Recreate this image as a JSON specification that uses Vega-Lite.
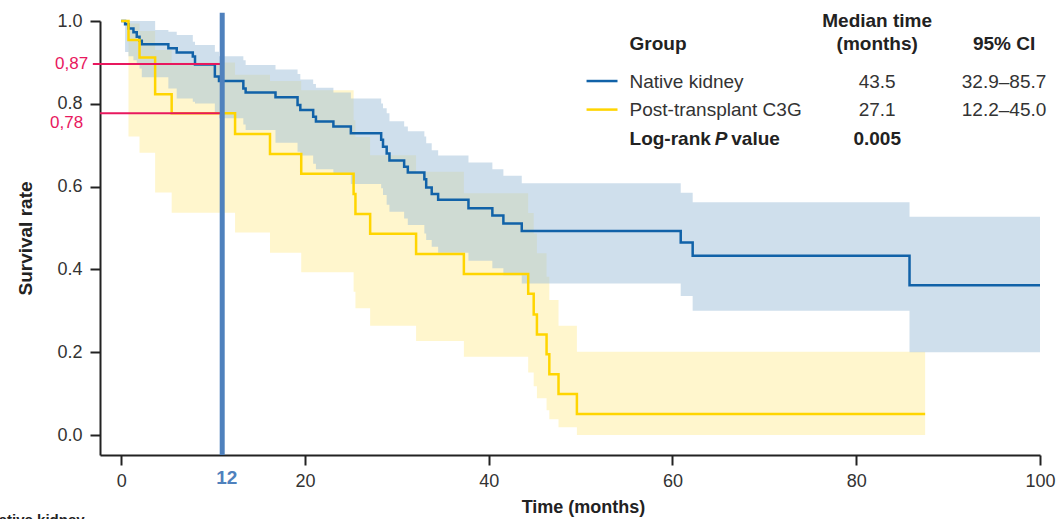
{
  "$schema": "https://vega.github.io/schema/vega-lite/v6.json",
  "width": 940,
  "height": 434,
  "autosize": {"type": "none"},
  "padding": {"left": 100, "top": 21, "right": 18, "bottom": 64},
  "background": "white",
  "config": {
    "view": {"stroke": null},
    "font": "Liberation Sans",
    "axis": {"grid": false, "tickSize": 10, "tickWidth": 2, "tickColor": "#222", "domainColor": "#222", "domainWidth": 2, "labelColor": "#333", "titleFontWeight": "bold", "titleColor": "#222", "labelFlush": false},
    "axisX": {"labelFontSize": 18, "labelPadding": 7, "titleFontSize": 18, "titlePadding": 8, "titleX": 483},
    "axisY": {"labelFontSize": 18, "labelPadding": 8, "titleFontSize": 19, "titlePadding": 21}
  },
  "datasets": {
    "km": [
      {"group": "Native kidney", "t": 0, "s": 1.0, "lo": 1.0, "hi": 1.0},
      {"group": "Native kidney", "t": 0.43, "s": 0.992, "lo": 0.925, "hi": 1.0},
      {"group": "Native kidney", "t": 0.8, "s": 0.982, "lo": 0.915, "hi": 1.0},
      {"group": "Native kidney", "t": 1.34, "s": 0.973, "lo": 0.905, "hi": 1.0},
      {"group": "Native kidney", "t": 1.7, "s": 0.962, "lo": 0.895, "hi": 1.0},
      {"group": "Native kidney", "t": 2.0, "s": 0.952, "lo": 0.885, "hi": 1.0},
      {"group": "Native kidney", "t": 2.25, "s": 0.944, "lo": 0.864, "hi": 1.0},
      {"group": "Native kidney", "t": 3.7, "s": 0.944, "lo": 0.864, "hi": 0.978},
      {"group": "Native kidney", "t": 5.14, "s": 0.934, "lo": 0.837, "hi": 0.974},
      {"group": "Native kidney", "t": 6.05, "s": 0.924, "lo": 0.813, "hi": 0.966},
      {"group": "Native kidney", "t": 7.8, "s": 0.914, "lo": 0.805, "hi": 0.950},
      {"group": "Native kidney", "t": 8.04, "s": 0.895, "lo": 0.801, "hi": 0.942},
      {"group": "Native kidney", "t": 10.2, "s": 0.866, "lo": 0.777, "hi": 0.926},
      {"group": "Native kidney", "t": 10.65, "s": 0.855, "lo": 0.765, "hi": 0.915},
      {"group": "Native kidney", "t": 13.3, "s": 0.837, "lo": 0.750, "hi": 0.905},
      {"group": "Native kidney", "t": 13.55, "s": 0.827, "lo": 0.737, "hi": 0.894},
      {"group": "Native kidney", "t": 16.8, "s": 0.816, "lo": 0.706, "hi": 0.883},
      {"group": "Native kidney", "t": 19.2, "s": 0.797, "lo": 0.684, "hi": 0.872},
      {"group": "Native kidney", "t": 19.5, "s": 0.785, "lo": 0.675, "hi": 0.859},
      {"group": "Native kidney", "t": 20.9, "s": 0.769, "lo": 0.655, "hi": 0.848},
      {"group": "Native kidney", "t": 21.2, "s": 0.757, "lo": 0.642, "hi": 0.839},
      {"group": "Native kidney", "t": 23.1, "s": 0.745, "lo": 0.628, "hi": 0.827},
      {"group": "Native kidney", "t": 25.0, "s": 0.729, "lo": 0.606, "hi": 0.813},
      {"group": "Native kidney", "t": 28.3, "s": 0.713, "lo": 0.596, "hi": 0.801},
      {"group": "Native kidney", "t": 28.5, "s": 0.696, "lo": 0.580, "hi": 0.789},
      {"group": "Native kidney", "t": 28.9, "s": 0.680, "lo": 0.556, "hi": 0.777},
      {"group": "Native kidney", "t": 29.2, "s": 0.663, "lo": 0.539, "hi": 0.758},
      {"group": "Native kidney", "t": 30.8, "s": 0.648, "lo": 0.523, "hi": 0.745},
      {"group": "Native kidney", "t": 31.2, "s": 0.634, "lo": 0.507, "hi": 0.734},
      {"group": "Native kidney", "t": 33.0, "s": 0.618, "lo": 0.487, "hi": 0.721},
      {"group": "Native kidney", "t": 33.2, "s": 0.598, "lo": 0.471, "hi": 0.705},
      {"group": "Native kidney", "t": 33.8, "s": 0.582, "lo": 0.455, "hi": 0.688},
      {"group": "Native kidney", "t": 34.5, "s": 0.568, "lo": 0.440, "hi": 0.675},
      {"group": "Native kidney", "t": 37.8, "s": 0.548, "lo": 0.421, "hi": 0.658},
      {"group": "Native kidney", "t": 40.4, "s": 0.530, "lo": 0.403, "hi": 0.642},
      {"group": "Native kidney", "t": 41.6, "s": 0.511, "lo": 0.386, "hi": 0.626},
      {"group": "Native kidney", "t": 43.6, "s": 0.493, "lo": 0.366, "hi": 0.608},
      {"group": "Native kidney", "t": 60.9, "s": 0.465, "lo": 0.336, "hi": 0.585},
      {"group": "Native kidney", "t": 62.2, "s": 0.433, "lo": 0.300, "hi": 0.562},
      {"group": "Native kidney", "t": 85.8, "s": 0.362, "lo": 0.200, "hi": 0.527},
      {"group": "Native kidney", "t": 100, "s": 0.362, "lo": 0.200, "hi": 0.527},
      {"group": "Post-transplant C3G", "t": 0, "s": 1.0, "lo": 1.0, "hi": 1.0},
      {"group": "Post-transplant C3G", "t": 0.8, "s": 0.954, "lo": 0.721, "hi": 0.994},
      {"group": "Post-transplant C3G", "t": 2.0, "s": 0.912, "lo": 0.682, "hi": 0.976},
      {"group": "Post-transplant C3G", "t": 3.7, "s": 0.823, "lo": 0.586, "hi": 0.930},
      {"group": "Post-transplant C3G", "t": 5.5, "s": 0.777, "lo": 0.537, "hi": 0.900},
      {"group": "Post-transplant C3G", "t": 12.4, "s": 0.727, "lo": 0.489, "hi": 0.870},
      {"group": "Post-transplant C3G", "t": 16.2, "s": 0.679, "lo": 0.440, "hi": 0.855},
      {"group": "Post-transplant C3G", "t": 19.6, "s": 0.631, "lo": 0.393, "hi": 0.833},
      {"group": "Post-transplant C3G", "t": 25.3, "s": 0.582, "lo": 0.346, "hi": 0.760},
      {"group": "Post-transplant C3G", "t": 25.5, "s": 0.534, "lo": 0.306, "hi": 0.720},
      {"group": "Post-transplant C3G", "t": 27.1, "s": 0.486, "lo": 0.264, "hi": 0.676},
      {"group": "Post-transplant C3G", "t": 32.1, "s": 0.437, "lo": 0.227, "hi": 0.636},
      {"group": "Post-transplant C3G", "t": 37.3, "s": 0.389, "lo": 0.189, "hi": 0.584},
      {"group": "Post-transplant C3G", "t": 44.3, "s": 0.341, "lo": 0.151, "hi": 0.536},
      {"group": "Post-transplant C3G", "t": 44.9, "s": 0.291, "lo": 0.118, "hi": 0.487},
      {"group": "Post-transplant C3G", "t": 45.25, "s": 0.243, "lo": 0.089, "hi": 0.439},
      {"group": "Post-transplant C3G", "t": 46.3, "s": 0.195, "lo": 0.060, "hi": 0.382},
      {"group": "Post-transplant C3G", "t": 46.6, "s": 0.147, "lo": 0.038, "hi": 0.326},
      {"group": "Post-transplant C3G", "t": 47.6, "s": 0.099, "lo": 0.019, "hi": 0.264},
      {"group": "Post-transplant C3G", "t": 49.6, "s": 0.051, "lo": 0.0, "hi": 0.201},
      {"group": "Post-transplant C3G", "t": 87.5, "s": 0.051, "lo": 0.0, "hi": 0.201}
    ]
  },
  "layer": [
    {
      "data": {"name": "km"},
      "transform": [{"filter": "datum.group === 'Post-transplant C3G'"}],
      "mark": {"type": "area", "interpolate": "step-after", "color": "#fff6cd", "opacity": 1},
      "encoding": {
        "x": {"field": "t", "type": "quantitative", "title": "Time (months)", "scale": {"domain": [-2.3, 100], "nice": false, "zero": false},
          "axis": {"values": [0, 20, 40, 60, 80, 100]}},
        "y": {"field": "lo", "type": "quantitative", "title": "Survival rate", "scale": {"domain": [-0.0483, 1.0], "nice": false, "zero": false},
          "axis": {"values": [0, 0.2, 0.4, 0.6, 0.8, 1.0], "format": ".1f"}},
        "y2": {"field": "hi"}
      }
    },
    {
      "data": {"name": "km"},
      "transform": [{"filter": "datum.group === 'Native kidney'"}],
      "mark": {"type": "area", "interpolate": "step-after", "color": "#9fbfd9", "opacity": 0.5},
      "encoding": {
        "x": {"field": "t", "type": "quantitative", "title": "Time (months)"},
        "y": {"field": "lo", "type": "quantitative", "title": "Survival rate"},
        "y2": {"field": "hi"}
      }
    },
    {
      "data": {"name": "km"},
      "mark": {"type": "line", "interpolate": "step-after", "strokeWidth": 2.5},
      "encoding": {
        "x": {"field": "t", "type": "quantitative", "title": "Time (months)"},
        "y": {"field": "s", "type": "quantitative", "title": "Survival rate"},
        "color": {"field": "group", "type": "nominal", "scale": {"domain": ["Post-transplant C3G", "Native kidney"], "range": ["#ffd500", "#1162a8"]}, "legend": null},
        "order": {"field": "t"}
      }
    },
    {
      "data": {"values": [
        {"t0": 50.65, "t1": 54.02, "v": 0.855, "group": "Native kidney"},
        {"t0": 50.65, "t1": 54.02, "v": 0.786, "group": "Post-transplant C3G"}
      ]},
      "mark": {"type": "rule", "strokeWidth": 2.5},
      "encoding": {
        "x": {"field": "t0", "type": "quantitative", "title": "Time (months)"},
        "x2": {"field": "t1"},
        "y": {"field": "v", "type": "quantitative", "title": "Survival rate"},
        "color": {"field": "group", "type": "nominal", "legend": null}
      }
    },
    {
      "data": {"values": [
        {"t0": -3.08, "t1": 10.76, "v": 0.896},
        {"t0": -2.3, "t1": 10.76, "v": 0.777}
      ]},
      "mark": {"type": "rule", "color": "#e8185e", "strokeWidth": 2},
      "encoding": {
        "x": {"field": "t0", "type": "quantitative", "title": "Time (months)"},
        "x2": {"field": "t1"},
        "y": {"field": "v", "type": "quantitative", "title": "Survival rate"}
      }
    },
    {
      "data": {"values": [{"t": 11.0, "v0": 1.02, "v1": -0.0483}]},
      "mark": {"type": "rule", "color": "#4f81bd", "strokeWidth": 5},
      "encoding": {
        "x": {"field": "t", "type": "quantitative", "title": "Time (months)"},
        "y": {"field": "v0", "type": "quantitative", "title": "Survival rate"},
        "y2": {"field": "v1"}
      }
    },
    {
      "data": {"values": [
        {"label": "0,87", "t": -3.59, "v": 0.896},
        {"label": "0,78", "t": -4.13, "v": 0.754}
      ]},
      "mark": {"type": "text", "align": "right", "baseline": "middle", "fontSize": 17, "color": "#e8185e"},
      "encoding": {
        "x": {"field": "t", "type": "quantitative", "title": "Time (months)"},
        "y": {"field": "v", "type": "quantitative", "title": "Survival rate"},
        "text": {"field": "label"}
      }
    },
    {
      "data": {"values": [{"label": "12", "t": 11.5, "v": -0.104}]},
      "mark": {"type": "text", "align": "center", "baseline": "middle", "fontSize": 19, "fontWeight": "bold", "color": "#4f81bd"},
      "encoding": {
        "x": {"field": "t", "type": "quantitative", "title": "Time (months)"},
        "y": {"field": "v", "type": "quantitative", "title": "Survival rate"},
        "text": {"field": "label"}
      }
    },
    {
      "data": {"values": [
        {"label": "Median time", "t": 82.28, "v": 1.0},
        {"label": "(months)", "t": 82.28, "v": 0.9444},
        {"label": "95% CI", "t": 96.09, "v": 0.9444},
        {"label": "0.005", "t": 82.28, "v": 0.715}
      ]},
      "mark": {"type": "text", "align": "center", "baseline": "middle", "fontSize": 19, "fontWeight": "bold", "color": "#222"},
      "encoding": {
        "x": {"field": "t", "type": "quantitative", "title": "Time (months)"},
        "y": {"field": "v", "type": "quantitative", "title": "Survival rate"},
        "text": {"field": "label"}
      }
    },
    {
      "data": {"values": [
        {"label": "Group", "t": 55.33, "v": 0.9444},
        {"label": "Log-rank", "t": 55.33, "v": 0.715},
        {"label": "value", "t": 66.4, "v": 0.715}
      ]},
      "mark": {"type": "text", "align": "left", "baseline": "middle", "fontSize": 19, "fontWeight": "bold", "color": "#222"},
      "encoding": {
        "x": {"field": "t", "type": "quantitative", "title": "Time (months)"},
        "y": {"field": "v", "type": "quantitative", "title": "Survival rate"},
        "text": {"field": "label"}
      }
    },
    {
      "data": {"values": [{"label": "P", "t": 64.6, "v": 0.715}]},
      "mark": {"type": "text", "align": "left", "baseline": "middle", "fontSize": 19, "fontWeight": "bold", "fontStyle": "italic", "color": "#222"},
      "encoding": {
        "x": {"field": "t", "type": "quantitative", "title": "Time (months)"},
        "y": {"field": "v", "type": "quantitative", "title": "Survival rate"},
        "text": {"field": "label"}
      }
    },
    {
      "data": {"values": [
        {"label": "Native kidney", "t": 55.33, "v": 0.8527},
        {"label": "Post-transplant C3G", "t": 55.33, "v": 0.785}
      ]},
      "mark": {"type": "text", "align": "left", "baseline": "middle", "fontSize": 19, "color": "#333"},
      "encoding": {
        "x": {"field": "t", "type": "quantitative", "title": "Time (months)"},
        "y": {"field": "v", "type": "quantitative", "title": "Survival rate"},
        "text": {"field": "label"}
      }
    },
    {
      "data": {"values": [
        {"label": "43.5", "t": 82.28, "v": 0.8527},
        {"label": "27.1", "t": 82.28, "v": 0.785},
        {"label": "32.9–85.7", "t": 96.09, "v": 0.8527},
        {"label": "12.2–45.0", "t": 96.09, "v": 0.785}
      ]},
      "mark": {"type": "text", "align": "center", "baseline": "middle", "fontSize": 19, "color": "#333"},
      "encoding": {
        "x": {"field": "t", "type": "quantitative", "title": "Time (months)"},
        "y": {"field": "v", "type": "quantitative", "title": "Survival rate"},
        "text": {"field": "label"}
      }
    },
    {
      "data": {"values": [{"label": "Native kidney", "t": -14.5, "v": -0.205}]},
      "mark": {"type": "text", "align": "left", "baseline": "middle", "fontSize": 15, "fontWeight": "bold", "color": "#222"},
      "encoding": {
        "x": {"field": "t", "type": "quantitative", "title": "Time (months)"},
        "y": {"field": "v", "type": "quantitative", "title": "Survival rate"},
        "text": {"field": "label"}
      }
    }
  ]
}
